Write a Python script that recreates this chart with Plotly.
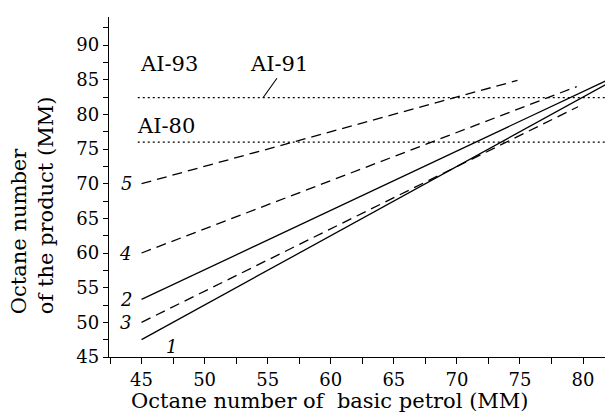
import plotly.graph_objects as go

# ---- data ----
curve_names = ["1", "2", "3", "4", "5"]
curve_x = [[45, 82], [45, 82], [45, 79.6], [45, 79.5], [45, 74.8]]
curve_y = [[47.5, 84.5], [53.3, 85.0], [50.0, 81.1], [60.0, 84.0], [70.0, 84.9]]
curve_dash = ["solid", "solid", "10px,6px", "10px,6px", "10px,6px"]

grade_names = ["AI-93 / AI-91", "AI-80"]
grade_levels = [82.4, 76.0]
grade_x = [44.7, 82.5]

x_ticks = [45, 50, 55, 60, 65, 70, 75, 80]
x_tick_labels = ["45", "50", "55", "60", "65", "70", "75", "80"]
y_ticks = [45, 50, 55, 60, 65, 70, 75, 80, 85, 90]
y_tick_labels = ["45", "50", "55", "60", "65", "70", "75", "80", "85", "90"]

FONT = "DejaVu Serif"
FS = 18      # tick labels, curve numbers
FS_T = 21    # axis titles
FS_A = 21    # grade labels
fig = go.Figure()

for lvl in grade_levels:
    fig.add_trace(go.Scatter(x=grade_x, y=[lvl, lvl], mode="lines",
                             line=dict(color="black", width=1.2, dash="2px,3px"),
                             showlegend=False, hoverinfo="skip"))

for name, xs, ys, dash in zip(curve_names, curve_x, curve_y, curve_dash):
    fig.add_trace(go.Scatter(x=xs, y=ys, mode="lines", name=name,
                             line=dict(color="black", width=1.3, dash=dash),
                             showlegend=False))

# curve number labels
label_offsets = {"1": (2.4, -1.0), "2": (-1.25, 0), "3": (-1.25, 0), "4": (-1.3, 0), "5": (-1.2, 0)}
for name, xs, ys in zip(curve_names, curve_x, curve_y):
    dx, dy = label_offsets[name]
    fig.add_annotation(x=xs[0] + dx, y=ys[0] + dy, text="<i>" + name + "</i>",
                       showarrow=False, font=dict(family=FONT, size=FS, color="black"))

# grade labels
fig.add_annotation(x=47.14, y=87.2, text="AI-93", showarrow=False,
                   font=dict(family=FONT, size=FS_A, color="black"))
fig.add_annotation(x=55.9, y=87.2, text="AI-91", showarrow=False,
                   font=dict(family=FONT, size=FS_A, color="black"))
fig.add_annotation(x=46.94, y=78.25, text="AI-80", showarrow=False,
                   font=dict(family=FONT, size=FS_A, color="black"))
fig.add_annotation(x=54.63, y=grade_levels[0], ax=15, ay=-21, text="", showarrow=True,
                   arrowhead=0, arrowwidth=1.1, arrowcolor="black")

# y-axis title (two lines, left aligned)
fig.add_annotation(xref="paper", yref="paper", x=-0.155, y=0.447,
                   xanchor="center", yanchor="middle",
                   text="Octane number<br>of the product (MM)", textangle=-90,
                   align="left", showarrow=False,
                   font=dict(family=FONT, size=FS_T, color="black"))

# x-axis title
fig.add_annotation(xref="paper", yref="paper", x=0.446, y=-0.128,
                   xanchor="center", yanchor="middle",
                   text="Octane number of\u00a0 basic petrol (MM)", showarrow=False,
                   font=dict(family=FONT, size=FS_T, color="black"))

fig.update_layout(
    width=605, height=414,
    margin=dict(l=109, r=0, t=17, b=57),
    paper_bgcolor="white", plot_bgcolor="white",
    font=dict(family=FONT, size=FS, color="black"),
    xaxis=dict(range=[42.42, 81.74], tickvals=x_ticks, ticktext=x_tick_labels,
               showline=True, linecolor="black", linewidth=1.3,
               ticks="outside", ticklen=6, tickwidth=1.3, tickcolor="black",
               minor=dict(dtick=2.5, tick0=45, ticks="outside", ticklen=6,
                          tickwidth=1.3, tickcolor="black"),
               showgrid=False, zeroline=False),
    yaxis=dict(range=[45, 94.04], tickvals=y_ticks, ticktext=y_tick_labels,
               showline=True, linecolor="black", linewidth=1.3,
               ticks="outside", ticklen=5, tickwidth=1.3, tickcolor="black",
               minor=dict(dtick=2.5, tick0=45, ticks="outside", ticklen=5,
                          tickwidth=1.3, tickcolor="black"),
               showgrid=False, zeroline=False),
)

fig.write_html("out.html")
